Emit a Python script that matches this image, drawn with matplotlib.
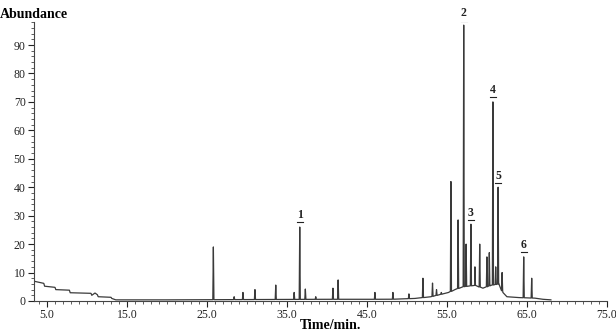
import numpy as np
import matplotlib.pyplot as plt
from matplotlib.ticker import MultipleLocator

# baseline of the trace (time in min, abundance)
base_t = [3.3, 4.6, 4.7, 6.0, 6.1, 7.8, 7.9, 10.5, 10.6, 11.0, 11.3, 11.4, 13.0, 13.1, 13.6,
          20.0, 30.0, 40.0, 48.0, 51.0, 53.0, 54.5, 55.2, 56.0, 57.0, 58.5, 59.5, 60.5,
          61.5, 62.0, 62.5, 64.0, 66.0, 67.0, 68.0]
base_y = [7.0, 6.2, 5.2, 4.8, 4.0, 3.8, 2.9, 2.7, 2.0, 2.8, 2.2, 1.5, 1.3, 0.9, 0.4,
          0.4, 0.5, 0.6, 0.6, 0.9, 1.5, 2.5, 3.0, 4.0, 5.0, 5.5, 4.5, 5.5,
          6.0, 3.0, 1.5, 1.2, 1.0, 0.6, 0.4]

# peaks
peak_t = [25.8, 28.4, 29.5, 31.0, 33.6, 35.9, 36.6, 37.3, 38.6, 40.75, 41.4, 46.0,
          48.25, 50.25, 52.0, 53.2, 53.7, 54.3, 55.5, 56.4, 57.1, 57.4, 58.0, 58.5,
          59.1, 60.0, 60.3, 60.75, 61.1, 61.4, 61.9, 64.6, 65.6]
peak_h = [19.0, 1.5, 3.0, 4.0, 5.6, 3.0, 26.0, 4.2, 1.5, 4.5, 7.4, 3.0,
          3.0, 2.5, 8.0, 6.3, 4.0, 3.0, 42.0, 28.5, 97.0, 20.0, 27.0, 12.0,
          20.0, 15.5, 17.0, 70.0, 12.0, 40.0, 10.0, 15.5, 8.0]

# numbered peaks
label_num = ["1", "2", "3", "4", "5", "6"]
label_t = [36.6, 57.1, 58.0, 60.75, 61.4, 64.6]
label_h = [26.0, 97.0, 27.0, 70.0, 40.0, 15.5]

# build the trace: baseline points plus a sharp apex for each peak
w = 0.07
pt = np.array(peak_t)
foot = np.interp(pt, base_t, base_y)
tt = list(base_t) + list(pt - w) + list(pt) + list(pt + w)
yy = list(base_y) + list(foot) + list(peak_h) + list(foot)
order = np.argsort(tt, kind="stable")
tt = np.array(tt)[order]
yy = np.array(yy)[order]

plt.rcParams["font.family"] = ["Liberation Serif", "DejaVu Serif"]

fig = plt.figure(figsize=(6.16, 3.32), dpi=100)
ax = fig.add_axes([0.0552, 0.0934, 0.930, 0.8395])

ax.plot(tt, yy, color="#3a3a3a", linewidth=0.9)

for num, t, h in zip(label_num, label_t, label_h):
    ax.text(t, h + 2.0, num, ha="center", va="bottom", fontsize=8.5,
            fontweight="bold", color="#222222")
    ax.plot([t - 0.35, t + 0.35], [h + 1.6, h + 1.6], color="#222222", linewidth=0.8)

ax.set_xlim(3.375, 75)
ax.set_ylim(0, 98)
ax.set_xticks(np.arange(5, 76, 10))
ax.set_xticklabels(["%.1f" % v for v in np.arange(5, 76, 10)])
ax.set_yticks(np.arange(0, 91, 10))
ax.xaxis.set_minor_locator(MultipleLocator(1))
ax.yaxis.set_minor_locator(MultipleLocator(2))
ax.tick_params(axis="both", which="major", labelsize=8.5, length=4, width=0.8,
               colors="#222222", direction="out", pad=2)
ax.tick_params(axis="both", which="minor", length=2, width=0.6, color="#444444",
               direction="out")
ax.spines["top"].set_visible(False)
ax.spines["right"].set_visible(False)
ax.spines["left"].set_color("#444444")
ax.spines["bottom"].set_color("#444444")

fig.text(0.0, 1 - 14 / 332, "Abundance", fontsize=10, fontweight="bold",
         ha="left", va="center")
fig.text(0.536, 0.02, "Time/min.", fontsize=10, fontweight="bold",
         ha="center", va="center")

fig.savefig("out.png", dpi=100)
